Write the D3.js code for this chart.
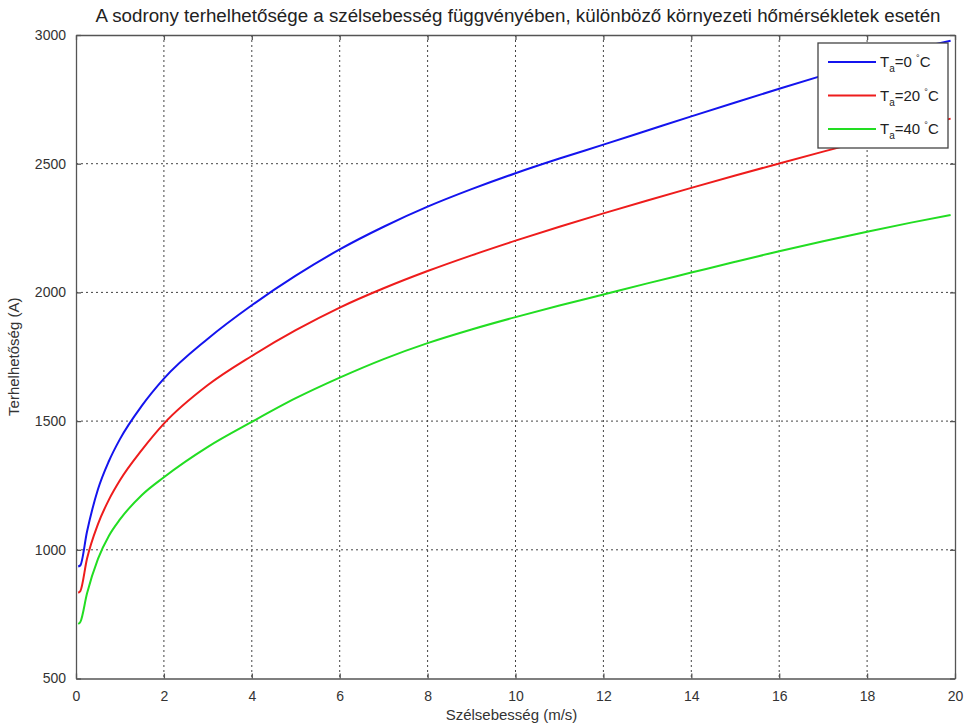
<!DOCTYPE html>
<html>
<head>
<meta charset="utf-8">
<script src="https://cdn.jsdelivr.net/npm/d3@7"></script>
<style>
  body { margin: 0; background: #fff; }
  svg { font-family: "Liberation Sans", Arial, sans-serif; }
</style>
</head>
<body>
<div id="chart"></div>
<script>
const windSpeed = [0.05, 0.1, 0.25, 0.5, 0.75, 1, 1.5, 2, 3, 4, 5, 6, 7, 8, 9, 10, 11, 12, 13, 14, 15, 16, 17, 18, 19, 19.9];

// current rating (A) for each ambient temperature
const rating0 = [935, 940, 1070, 1235, 1345, 1430, 1560, 1665, 1820, 1950, 2065, 2167, 2255, 2333, 2401, 2463, 2520, 2574, 2629, 2684, 2738, 2791, 2843, 2894, 2942, 2978];
const rating20 = [833, 840, 965, 1100, 1195, 1270, 1388, 1490, 1640, 1753, 1853, 1941, 2016, 2083, 2144, 2201, 2255, 2307, 2357, 2406, 2454, 2501, 2547, 2592, 2636, 2675];
const rating40 = [712, 720, 830, 965, 1055, 1118, 1213, 1282, 1400, 1497, 1589, 1669, 1741, 1803, 1856, 1904, 1949, 1992, 2035, 2077, 2119, 2160, 2199, 2236, 2271, 2301];

const seriesNames = ["0", "20", "40"];
const seriesColors = ["#1414ee", "#ee1c1c", "#22dd22"];

const xTicks = [0, 2, 4, 6, 8, 10, 12, 14, 16, 18, 20];
const yTicks = [500, 1000, 1500, 2000, 2500, 3000];

const titleText = "A sodrony terhelhetősége a szélsebesség függvényében, különböző környezeti hőmérsékletek esetén";
const xLabel = "Szélsebesség (m/s)";
const yLabel = "Terhelhetőség (A)";

const width = 965, height = 725;
const plotLeft = 76, plotRight = 955, plotTop = 35, plotBottom = 678.5;

const svg = d3.select("#chart").append("svg")
    .attr("width", width)
    .attr("height", height);

const x = d3.scaleLinear().domain([0, 20]).range([plotLeft, plotRight]);
const y = d3.scaleLinear().domain([500, 3000]).range([plotBottom, plotTop]);

const gridColor = "#444";
const axisColor = "#555";

// dotted grid lines (not on the border)
svg.append("g")
    .selectAll("line")
    .data(xTicks.slice(1, -1))
    .join("line")
    .attr("x1", d => x(d)).attr("x2", d => x(d))
    .attr("y1", plotTop).attr("y2", plotBottom)
    .attr("stroke", gridColor)
    .attr("stroke-width", 1)
    .attr("stroke-dasharray", "2,3");

svg.append("g")
    .selectAll("line")
    .data(yTicks.slice(1, -1))
    .join("line")
    .attr("x1", plotLeft).attr("x2", plotRight)
    .attr("y1", d => y(d)).attr("y2", d => y(d))
    .attr("stroke", gridColor)
    .attr("stroke-width", 1)
    .attr("stroke-dasharray", "2,3");

// axes with inner ticks, MATLAB style
const fmt = d3.format("d");
const xAxis = svg.append("g")
    .attr("transform", `translate(0,${plotBottom})`)
    .call(d3.axisBottom(x).tickValues(xTicks).tickFormat(fmt).tickSizeInner(-5).tickSizeOuter(0).tickPadding(13));
const xAxisTop = svg.append("g")
    .attr("transform", `translate(0,${plotTop})`)
    .call(d3.axisTop(x).tickValues(xTicks).tickSizeInner(-5).tickSizeOuter(0).tickFormat(""));
const yAxis = svg.append("g")
    .attr("transform", `translate(${plotLeft},0)`)
    .call(d3.axisLeft(y).tickValues(yTicks).tickFormat(fmt).tickSizeInner(-5).tickSizeOuter(0).tickPadding(10));
const yAxisRight = svg.append("g")
    .attr("transform", `translate(${plotRight},0)`)
    .call(d3.axisRight(y).tickValues(yTicks).tickSizeInner(-5).tickSizeOuter(0).tickFormat(""));

[xAxis, xAxisTop, yAxis, yAxisRight].forEach(g => {
    g.select(".domain").attr("stroke", axisColor).attr("stroke-width", 1.3);
    g.selectAll(".tick line").attr("stroke", axisColor).attr("stroke-width", 1.3);
    g.selectAll(".tick text")
        .attr("fill", "#333")
        .style("font-size", "14px")
        .style("font-family", "'Liberation Sans', Arial, sans-serif");
});

// curves
const line = d3.line()
    .x(d => x(d[0]))
    .y(d => y(d[1]))
    .curve(d3.curveMonotoneX);

const allSeries = [rating0, rating20, rating40];
allSeries.forEach((vals, i) => {
    svg.append("path")
        .datum(windSpeed.map((w, j) => [w, vals[j]]))
        .attr("fill", "none")
        .attr("stroke", seriesColors[i])
        .attr("stroke-width", 2)
        .attr("d", line);
});

// title and axis labels
svg.append("text")
    .attr("x", 518)
    .attr("y", 22)
    .attr("text-anchor", "middle")
    .attr("fill", "#222")
    .attr("textLength", 845)
    .attr("lengthAdjust", "spacingAndGlyphs")
    .style("font-size", "18px")
    .text(titleText);

svg.append("text")
    .attr("x", (plotLeft + plotRight) / 2 - 4)
    .attr("y", 720)
    .attr("text-anchor", "middle")
    .attr("fill", "#333")
    .style("font-size", "15px")
    .text(xLabel);

svg.append("text")
    .attr("transform", `translate(19,${(plotTop + plotBottom) / 2}) rotate(-90)`)
    .attr("text-anchor", "middle")
    .attr("fill", "#333")
    .style("font-size", "15px")
    .text(yLabel);

// legend
const lg = svg.append("g");
lg.append("rect")
    .attr("x", 818).attr("y", 43)
    .attr("width", 130).attr("height", 105)
    .attr("fill", "#fff")
    .attr("stroke", "#444")
    .attr("stroke-width", 1.3);

seriesNames.forEach((name, i) => {
    const ly = 62 + i * 33.5;
    lg.append("line")
        .attr("x1", 828).attr("x2", 876)
        .attr("y1", ly).attr("y2", ly)
        .attr("stroke", seriesColors[i])
        .attr("stroke-width", 2);
    const t = lg.append("text")
        .attr("x", 880).attr("y", ly + 5)
        .attr("fill", "#222")
        .style("font-size", "15px");
    t.append("tspan").text("T");
    t.append("tspan").attr("dy", 5).style("font-size", "10px").text("a");
    t.append("tspan").attr("dy", -5).text("=" + name + " ");
    t.append("tspan").attr("dy", -6).style("font-size", "9px").text("°");
    t.append("tspan").attr("dy", 6).text("C");
});
</script>
</body>
</html>
